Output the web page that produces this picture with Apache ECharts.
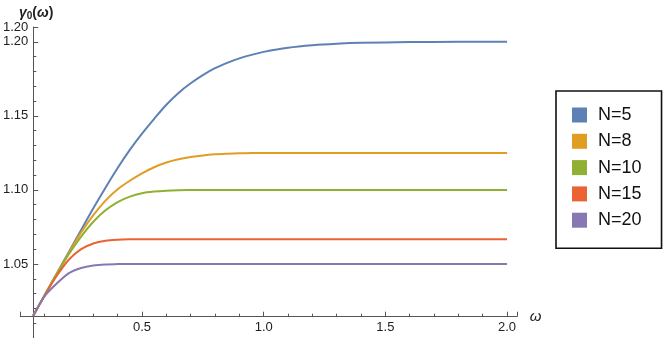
<!DOCTYPE html>
<html>
<head>
<meta charset="utf-8">
<script src="https://cdn.jsdelivr.net/npm/echarts@6/dist/echarts.min.js"></script>
<style>
html,body{margin:0;padding:0;background:#fff;}
#chart{width:665px;height:338px;}
</style>
</head>
<body>
<div id="chart"></div>
<script>
// ω sample positions
var omega = [0.053, 0.1, 0.15, 0.2, 0.25, 0.3, 0.35, 0.4, 0.45, 0.5, 0.55, 0.6, 0.65, 0.7, 0.75, 0.8, 0.85, 0.9, 0.95, 1.0, 1.1, 1.2, 1.3, 1.4, 1.6, 1.8, 2.0];
// γ0(ω) values
var gN5  = [1.015, 1.0289, 1.0436, 1.0583, 1.0730, 1.0876, 1.1015, 1.1148, 1.1270, 1.1380, 1.1480, 1.1575, 1.1655, 1.1720, 1.1775, 1.1822, 1.1858, 1.1888, 1.1912, 1.1932, 1.1960, 1.1977, 1.1987, 1.1993, 1.1998, 1.2000, 1.2000];
var gN8  = [1.015, 1.0289, 1.0435, 1.0578, 1.0712, 1.0830, 1.0928, 1.1005, 1.1062, 1.1112, 1.1153, 1.1185, 1.1207, 1.1222, 1.1233, 1.1240, 1.1244, 1.1247, 1.1249, 1.1250, 1.1250, 1.1250, 1.1250, 1.1250, 1.1250, 1.1250, 1.1250];
var gN10 = [1.015, 1.0289, 1.0432, 1.0568, 1.0685, 1.0785, 1.0862, 1.0918, 1.0955, 1.0978, 1.0989, 1.0995, 1.0998, 1.0999, 1.1000, 1.1000, 1.1000, 1.1000, 1.1000, 1.1000, 1.1000, 1.1000, 1.1000, 1.1000, 1.1000, 1.1000, 1.1000];
var gN15 = [1.015, 1.0287, 1.0420, 1.0530, 1.0600, 1.0638, 1.0656, 1.0663, 1.0666, 1.0667, 1.0667, 1.0667, 1.0667, 1.0667, 1.0667, 1.0667, 1.0667, 1.0667, 1.0667, 1.0667, 1.0667, 1.0667, 1.0667, 1.0667, 1.0667, 1.0667, 1.0667];
var gN20 = [1.015, 1.0282, 1.0368, 1.0438, 1.0473, 1.0490, 1.0497, 1.0499, 1.0500, 1.0500, 1.0500, 1.0500, 1.0500, 1.0500, 1.0500, 1.0500, 1.0500, 1.0500, 1.0500, 1.0500, 1.0500, 1.0500, 1.0500, 1.0500, 1.0500, 1.0500, 1.0500];
var seriesNames = ['N=5', 'N=8', 'N=10', 'N=15', 'N=20'];
var seriesValues = [gN5, gN8, gN10, gN15, gN20];
var colors = ['#5E81B5', '#E19C24', '#8FB032', '#EB6235', '#8778B3'];
var xTickLabels = ['0.5', '1.0', '1.5', '2.0'];
var yTickLabels = ['1.05', '1.10', '1.15', '1.20'];

function pairs(xs, ys) {
  var out = [];
  for (var i = 0; i < xs.length; i++) out.push([xs[i], ys[i]]);
  return out;
}

var font = '"Liberation Sans", Arial, sans-serif';
var axisColor = '#555';

var chart = echarts.init(document.getElementById('chart'), null, {renderer: 'canvas'});
var option = {
  animation: false,
  color: colors,
  textStyle: {fontFamily: font},
  title: {
    left: 14, top: 0,
    text: '{g|γ}{s|0}{n|(}{g|ω}{n|)}',
    textStyle: {
      rich: {
        g: {fontFamily: font, fontStyle: 'italic', fontSize: 14, color: '#222'},
        s: {fontFamily: font, fontSize: 10, color: '#222', verticalAlign: 'bottom', padding: [6, 0, 0, 0]},
        n: {fontFamily: font, fontSize: 14, color: '#222'}
      }
    }
  },
  grid: {left: 18, top: 27, width: 498.8, height: 312.2, containLabel: false},
  xAxis: {
    type: 'value', min: 0, max: 2.04, interval: 0.5,
    offset: -21.3,
    name: 'ω', nameLocation: 'end', nameGap: 13,
    nameTextStyle: {fontFamily: font, fontStyle: 'italic', fontSize: 15, color: '#222'},
    axisLine: {onZero: false, lineStyle: {color: axisColor, width: 1}},
    axisTick: {inside: true, length: 5, lineStyle: {color: axisColor}},
    minorTick: {show: true, splitNumber: 5, length: 3, lineStyle: {color: axisColor}},
    splitLine: {show: false},
    axisLabel: {
      margin: 4, fontSize: 13, color: '#222', fontFamily: font,
      formatter: function (v) {
        var idx = Math.round(v / 0.5) - 1;
        return (idx >= 0 && idx < xTickLabels.length && Math.abs(v - (idx + 1) * 0.5) < 1e-6) ? xTickLabels[idx] : '';
      }
    }
  },
  yAxis: {
    type: 'value', min: 1.0, max: 1.21, interval: 0.05,
    offset: -13,
    axisLine: {show: true, onZero: false, lineStyle: {color: axisColor, width: 1}},
    axisTick: {show: true, inside: true, length: 5, lineStyle: {color: axisColor}},
    minorTick: {show: true, splitNumber: 5, length: 3, lineStyle: {color: axisColor}},
    splitLine: {show: false},
    axisLabel: {
      margin: 5, fontSize: 13, color: '#222', fontFamily: font,
      formatter: function (v) {
        var idx = Math.round((v - 1.0) / 0.05) - 1;
        return (idx >= 0 && idx < yTickLabels.length) ? yTickLabels[idx] : '';
      }
    }
  },
  legend: {
    orient: 'vertical',
    left: 556, top: 91,
    padding: [15, 20, 19, 16],
    itemWidth: 15, itemHeight: 15, itemGap: 8.3,
    icon: 'rect',
    borderColor: '#111', borderWidth: 1.6, borderRadius: 0,
    backgroundColor: '#fff',
    textStyle: {fontFamily: font, fontSize: 18, color: '#111', lineHeight: 15, padding: [0, 0, 0, 6]},
    data: seriesNames
  },
  series: seriesNames.map(function (name, i) {
    return {
      name: name, type: 'line',
      data: pairs(omega, seriesValues[i]),
      showSymbol: false, symbol: 'none',
      smooth: 0.3,
      lineStyle: {width: 2, color: colors[i]},
      itemStyle: {color: colors[i]}
    };
  })
};
chart.setOption(option);
</script>
</body>
</html>
